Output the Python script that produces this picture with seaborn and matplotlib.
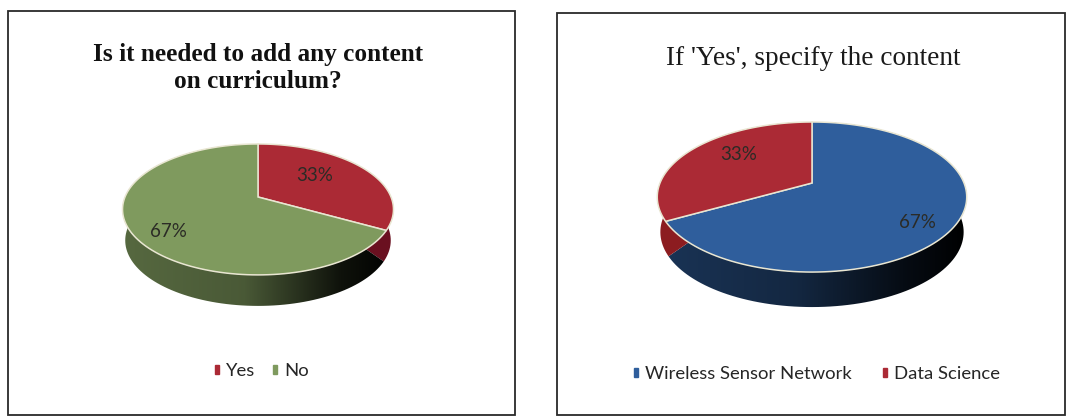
import numpy as np
import matplotlib
matplotlib.use('Agg')
import matplotlib.pyplot as plt
import seaborn as sns
from matplotlib.colors import LinearSegmentedColormap
from matplotlib.patches import Patch, Polygon, Rectangle
from matplotlib.transforms import Affine2D

# data
left_title = 'Is it needed to add any content\non curriculum?'
left_labels = ['Yes', 'No']
left_values = [33, 67]

right_title = "If 'Yes', specify the content"
right_labels = ['Wireless Sensor Network', 'Data Science']
right_values = [67, 33]

# colours
red = '#ab2a35'
green = '#7f9a5e'
blue = '#2f5e9c'

sns.set_theme(style='white')
plt.rcParams['font.family'] = ['Lato', 'DejaVu Sans']

fig = plt.figure(figsize=(10.68, 4.17), dpi=100)
ax = fig.add_axes([0, 0, 1, 1])


def tilt(xy, s):
    # unit circle -> tilted ellipse in image pixels
    w = 1 + s['p'] * xy[:, 1]
    return np.column_stack([s['cx'] + s['b'] * xy[:, 0] / w,
                            s['cy'] - s['a'] * xy[:, 1] / w])


def draw_pie(values, colors, s):
    wedges, _, pct = ax.pie(values, colors=colors, startangle=90, counterclock=False,
                            autopct='%d%%', textprops={'fontsize': 13.5, 'color': '#2b2b26'})
    for wedge, text, color, pos in zip(wedges, pct, colors, s['text_pos']):
        xy = wedge.get_path().to_polygons(Affine2D().scale(400), closed_only=False)[0] / 400
        wedge.remove()
        top = tilt(xy, s)

        # side wall is the outer arc pushed down
        arc = xy[np.hypot(xy[:, 0], xy[:, 1]) > 0.99]
        upper = tilt(arc, s)
        lower = upper + [0, s['depth']]
        lower[:, 0] = s['cx'] + (lower[:, 0] - s['cx']) * 0.98
        wall = Polygon(np.vstack([upper, lower[::-1]]), closed=True, transform=ax.transData,
                       facecolor='none', edgecolor='none', zorder=2)
        ax.add_patch(wall)
        if wedge.theta2 - wedge.theta1 > 180:
            base = np.array(matplotlib.colors.to_rgb(color))
            cmap = LinearSegmentedColormap.from_list(
                'wall', [(0, base * s['shade'][0]), (0.45, base * s['shade'][1]),
                         (0.8, base * 0.12), (1, base * 0)])
            im = ax.imshow(np.linspace(0, 1, 256)[None, :], cmap=cmap, aspect='auto', zorder=2,
                           extent=(s['cx'] - s['b'] * 1.03, s['cx'] + s['b'] * 1.03, 417, 0))
            im.set_clip_path(wall)
        else:
            wall.set_facecolor(s['small_wall'])

        ax.add_patch(Polygon(top, closed=True, facecolor=color, edgecolor='#e9e6d2',
                             linewidth=1.1, zorder=3))
        text.set_position(pos)
        text.set_ha('center')
        text.set_va('center')
        text.set_zorder(4)


left_shape = {'cx': 258, 'cy': 197, 'a': 63.1, 'b': 133, 'p': 0.19, 'depth': 31,
              'shade': (0.68, 0.58), 'small_wall': '#6a1020',
              'text_pos': [(315, 175), (168, 231)]}
right_shape = {'cx': 812, 'cy': 183, 'a': 72.4, 'b': 152, 'p': 0.187, 'depth': 35,
               'shade': (0.55, 0.42), 'small_wall': '#8c1c20',
               'text_pos': [(917, 222), (739, 155)]}

draw_pie(left_values, [red, green], left_shape)
draw_pie(right_values, [blue, red], right_shape)

ax.set_aspect('auto')
ax.set_xlim(0, 1068)
ax.set_ylim(417, 0)
ax.set_axis_off()

# frames
ax.add_patch(Rectangle((8, 11), 507, 404, fill=False, edgecolor='#2a2a2a', linewidth=1.3))
ax.add_patch(Rectangle((557, 13), 508, 402, fill=False, edgecolor='#2a2a2a', linewidth=1.3))

# titles
ax.text(258, 68, left_title, ha='center', va='center', family='Liberation Serif',
        fontweight='bold', fontsize=18.2, color='#111111', linespacing=1.2)
ax.text(813, 58, right_title, ha='center', va='center', family='Liberation Serif',
        fontsize=19.6, color='#1a1a1a')

# legends
leg_left = ax.legend(handles=[Patch(color=red, label=left_labels[0]), Patch(color=green, label=left_labels[1])],
                     loc='center', bbox_to_anchor=(262, 371), bbox_transform=ax.transData, ncols=2,
                     frameon=False, fontsize=13.3, handlelength=0.2, handleheight=0.35,
                     handletextpad=0.4, columnspacing=0.95, labelcolor='#262626')
ax.add_artist(leg_left)
ax.legend(handles=[Patch(color=blue, label=right_labels[0]), Patch(color=red, label=right_labels[1])],
          loc='center', bbox_to_anchor=(817, 374), bbox_transform=ax.transData, ncols=2,
          frameon=False, fontsize=13.3, handlelength=0.2, handleheight=0.35,
          handletextpad=0.4, columnspacing=1.7, labelcolor='#262626')

fig.savefig('out.png', dpi=100, facecolor='white')
